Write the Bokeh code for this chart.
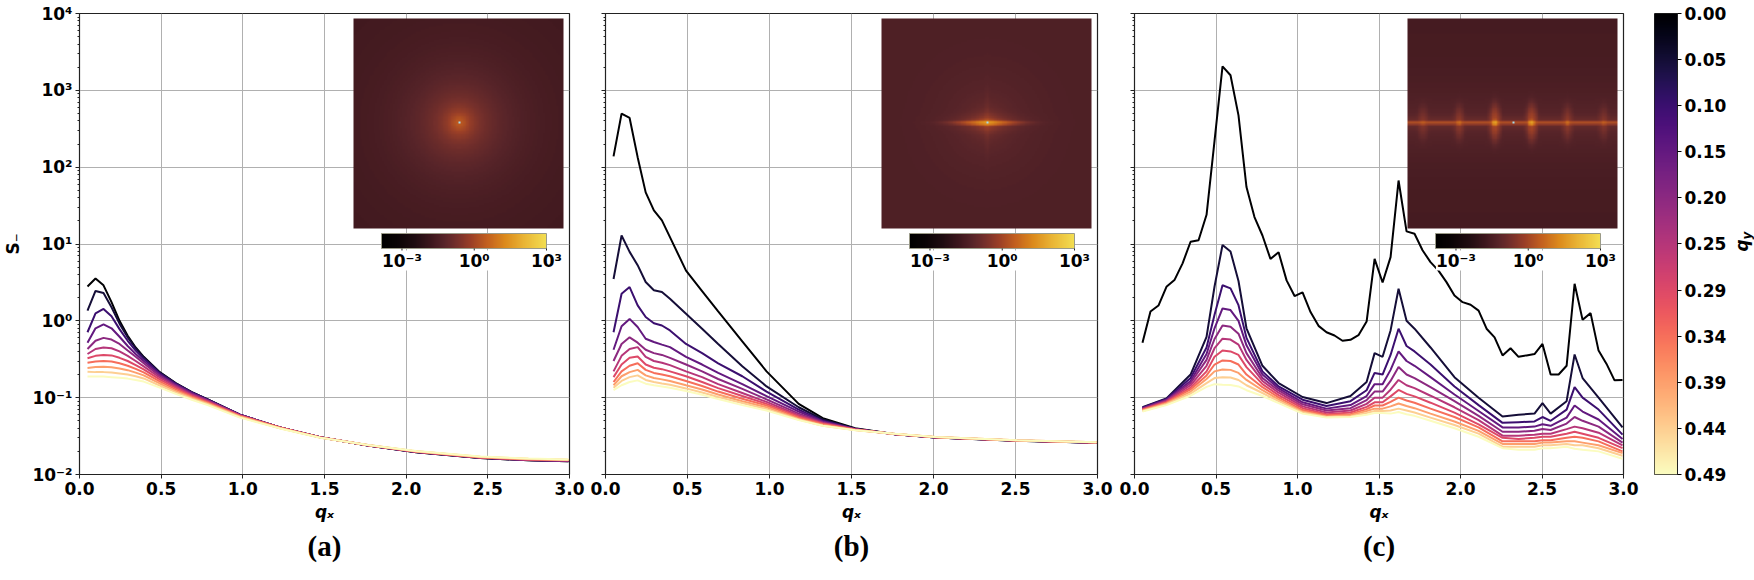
import numpy as np
from bokeh.plotting import figure
from bokeh.models import (Range1d, LinearScale, FixedTicker, CustomJSTickFormatter,
                          Title, LinearColorMapper, LogColorMapper)
from bokeh.layouts import row
from bokeh.embed import file_html
from bokeh.resources import INLINE
from bokeh.palettes import Magma256
from bokeh.core.properties import value

# ---------------------------------------------------------------- data
qy_values = [0.0, 0.0491, 0.0982, 0.1473, 0.1963, 0.2454, 0.2945, 0.3436, 0.3927, 0.4418, 0.4909]
qy_labels = ["0.00", "0.05", "0.10", "0.15", "0.20", "0.25", "0.29", "0.34", "0.39", "0.44", "0.49"]
x_ticks = [0.0, 0.5, 1.0, 1.5, 2.0, 2.5, 3.0]
x_tick_labels = ["0.0", "0.5", "1.0", "1.5", "2.0", "2.5", "3.0"]
y_ticks = [1e-2, 1e-1, 1e0, 1e1, 1e2, 1e3, 1e4]
y_tick_labels = ["10⁻²", "10⁻¹", "10⁰", "10¹", "10²", "10³", "10⁴"]
inset_ticks = [1e-3, 1e0, 1e3]
inset_tick_labels = ["10⁻³", "10⁰", "10³"]
panel_labels = ["(a)", "(b)", "(c)"]

# panel (a)
qx_a = [0.049, 0.098, 0.147, 0.196, 0.245, 0.295, 0.344, 0.393, 0.491, 0.589,
        0.687, 0.785, 0.982, 1.227, 1.473, 1.767, 2.062, 2.454, 2.749, 2.994]
S_a = [
    [2.8, 3.55, 2.9, 1.75, 1.0, 0.64, 0.45, 0.34, 0.215, 0.155, 0.118, 0.095, 0.060, 0.041, 0.0305, 0.0238, 0.0195, 0.0164, 0.0153, 0.0149],
    [1.36, 2.45, 2.3, 1.5, 0.92, 0.61, 0.44, 0.335, 0.213, 0.154, 0.118, 0.095, 0.060, 0.041, 0.0305, 0.0238, 0.0195, 0.0164, 0.0153, 0.0149],
    [0.71, 1.25, 1.43, 1.15, 0.78, 0.55, 0.41, 0.32, 0.208, 0.152, 0.117, 0.094, 0.060, 0.041, 0.0305, 0.0239, 0.0196, 0.0165, 0.0154, 0.0150],
    [0.52, 0.8, 0.9, 0.8, 0.62, 0.47, 0.37, 0.3, 0.2, 0.148, 0.115, 0.093, 0.060, 0.041, 0.0305, 0.0239, 0.0196, 0.0165, 0.0154, 0.0150],
    [0.43, 0.55, 0.6, 0.57, 0.5, 0.41, 0.34, 0.28, 0.192, 0.144, 0.112, 0.092, 0.059, 0.041, 0.0305, 0.024, 0.0197, 0.0166, 0.0155, 0.0151],
    [0.37, 0.43, 0.45, 0.44, 0.4, 0.35, 0.3, 0.255, 0.183, 0.139, 0.109, 0.09, 0.059, 0.041, 0.0305, 0.024, 0.0197, 0.0166, 0.0156, 0.0152],
    [0.326, 0.35, 0.36, 0.355, 0.33, 0.3, 0.265, 0.233, 0.173, 0.134, 0.106, 0.088, 0.058, 0.0408, 0.0304, 0.0241, 0.0198, 0.0167, 0.0157, 0.0153],
    [0.284, 0.295, 0.3, 0.295, 0.28, 0.26, 0.237, 0.213, 0.163, 0.128, 0.103, 0.086, 0.058, 0.0405, 0.0304, 0.0241, 0.0199, 0.0168, 0.0158, 0.0154],
    [0.244, 0.25, 0.252, 0.248, 0.24, 0.228, 0.212, 0.195, 0.153, 0.122, 0.1, 0.084, 0.057, 0.0403, 0.0303, 0.0242, 0.0200, 0.0169, 0.0159, 0.0155],
    [0.217, 0.215, 0.215, 0.212, 0.207, 0.2, 0.19, 0.178, 0.144, 0.117, 0.097, 0.082, 0.056, 0.040, 0.0302, 0.0242, 0.0201, 0.0170, 0.0160, 0.0156],
    [0.188, 0.188, 0.188, 0.185, 0.182, 0.177, 0.17, 0.162, 0.135, 0.112, 0.094, 0.08, 0.055, 0.0398, 0.0301, 0.0242, 0.0202, 0.0171, 0.0161, 0.0157],
]

# panel (b)
qx_b = [0.049, 0.098, 0.147, 0.196, 0.245, 0.295, 0.344, 0.393, 0.491, 0.589,
        0.687, 0.834, 0.982, 1.178, 1.325, 1.522, 1.767, 2.013, 2.503, 2.994]
S_b = [
    [138, 498, 437, 135, 47, 27.4, 20.3, 12.3, 4.5, 2.44, 1.33, 0.54, 0.22, 0.083, 0.054, 0.0400, 0.0333, 0.0303, 0.0275, 0.0258],
    [3.5, 12.9, 7.9, 5.3, 3.2, 2.5, 2.37, 1.94, 1.24, 0.79, 0.5, 0.257, 0.14, 0.075, 0.052, 0.0395, 0.0333, 0.0303, 0.0275, 0.0258],
    [0.71, 2.25, 2.75, 1.59, 1.12, 0.93, 0.87, 0.75, 0.5, 0.38, 0.28, 0.19, 0.12, 0.07, 0.050, 0.0392, 0.0334, 0.0304, 0.0276, 0.0259],
    [0.42, 0.85, 1.06, 0.83, 0.585, 0.53, 0.49, 0.455, 0.34, 0.27, 0.21, 0.15, 0.105, 0.066, 0.049, 0.0390, 0.0334, 0.0304, 0.0276, 0.0259],
    [0.3, 0.5, 0.61, 0.52, 0.42, 0.38, 0.36, 0.33, 0.27, 0.22, 0.175, 0.13, 0.095, 0.062, 0.048, 0.0388, 0.0335, 0.0305, 0.0277, 0.0260],
    [0.22, 0.35, 0.43, 0.455, 0.34, 0.3, 0.285, 0.265, 0.22, 0.185, 0.15, 0.115, 0.088, 0.059, 0.047, 0.0386, 0.0335, 0.0305, 0.0277, 0.0260],
    [0.185, 0.27, 0.33, 0.343, 0.27, 0.245, 0.235, 0.22, 0.19, 0.16, 0.133, 0.105, 0.083, 0.057, 0.046, 0.0384, 0.0336, 0.0306, 0.0278, 0.0261],
    [0.16, 0.22, 0.26, 0.28, 0.23, 0.21, 0.2, 0.19, 0.165, 0.142, 0.12, 0.097, 0.079, 0.055, 0.045, 0.0382, 0.0336, 0.0306, 0.0278, 0.0261],
    [0.145, 0.19, 0.215, 0.23, 0.195, 0.18, 0.173, 0.165, 0.145, 0.128, 0.11, 0.09, 0.075, 0.053, 0.044, 0.0380, 0.0337, 0.0307, 0.0279, 0.0262],
    [0.135, 0.165, 0.185, 0.195, 0.17, 0.16, 0.153, 0.147, 0.132, 0.117, 0.102, 0.085, 0.071, 0.052, 0.043, 0.0378, 0.0337, 0.0307, 0.0279, 0.0262],
    [0.125, 0.145, 0.16, 0.168, 0.152, 0.145, 0.14, 0.135, 0.122, 0.109, 0.096, 0.08, 0.068, 0.051, 0.043, 0.0376, 0.0338, 0.0308, 0.0280, 0.0263],
]

# panel (c): q_y = 0 curve on the full grid, other curves on a sparser grid
qx_c0 = [0.049, 0.098, 0.147, 0.196, 0.245, 0.295, 0.344, 0.393, 0.442, 0.491,
         0.540, 0.589, 0.638, 0.687, 0.736, 0.785, 0.834, 0.884, 0.933, 0.982,
         1.031, 1.080, 1.129, 1.178, 1.227, 1.276, 1.325, 1.374, 1.424, 1.473,
         1.522, 1.571, 1.620, 1.669, 1.718, 1.767, 1.816, 1.865, 1.914, 1.963,
         2.013, 2.062, 2.111, 2.160, 2.209, 2.258, 2.307, 2.356, 2.405, 2.454,
         2.503, 2.553, 2.602, 2.651, 2.700, 2.749, 2.798, 2.847, 2.896, 2.945, 2.994]
S_c0 = [0.52, 1.32, 1.58, 2.77, 3.39, 5.6, 10.7, 11.2, 24, 220,
        2050, 1570, 472, 55, 22.4, 12.9, 6.4, 7.8, 3.36, 2.1,
        2.35, 1.30, 0.86, 0.71, 0.645, 0.55, 0.567, 0.65, 0.98, 6.4,
        3.15, 6.75, 67, 14.6, 13.6, 8.3, 5.8, 4.5, 3.19, 2.14,
        1.75, 1.62, 1.36, 0.79, 0.61, 0.355, 0.44, 0.34, 0.355, 0.37,
        0.50, 0.20, 0.20, 0.26, 3.04, 1.03, 1.26, 0.41, 0.275, 0.168, 0.17]
qx_c = [0.049, 0.196, 0.344, 0.442, 0.491, 0.540, 0.589, 0.638, 0.687, 0.785,
        0.884, 1.031, 1.178, 1.325, 1.424, 1.473, 1.522, 1.571, 1.620, 1.669,
        1.718, 1.816, 1.963, 2.111, 2.258, 2.356, 2.454, 2.503, 2.553, 2.651,
        2.700, 2.749, 2.847, 2.994]
S_c = [
    [0.075, 0.098, 0.2, 0.62, 2.8, 9.7, 8.0, 3.3, 0.8, 0.26, 0.155, 0.102, 0.085, 0.105, 0.16, 0.38, 0.34, 0.75, 2.62, 1.0, 0.79, 0.45, 0.185, 0.1, 0.057, 0.06, 0.062, 0.085, 0.062, 0.09, 0.365, 0.18, 0.1, 0.041],
    [0.074, 0.096, 0.18, 0.45, 1.2, 2.9, 2.65, 1.6, 0.6, 0.22, 0.14, 0.094, 0.078, 0.09, 0.125, 0.21, 0.2, 0.36, 0.79, 0.47, 0.4, 0.27, 0.14, 0.08, 0.047, 0.048, 0.049, 0.056, 0.05, 0.07, 0.137, 0.1, 0.07, 0.033],
    [0.073, 0.094, 0.165, 0.37, 0.8, 1.45, 1.38, 1.0, 0.48, 0.2, 0.132, 0.087, 0.072, 0.08, 0.105, 0.15, 0.15, 0.23, 0.4, 0.3, 0.26, 0.185, 0.11, 0.067, 0.041, 0.041, 0.042, 0.045, 0.043, 0.055, 0.079, 0.066, 0.052, 0.029],
    [0.072, 0.092, 0.155, 0.31, 0.58, 0.87, 0.84, 0.68, 0.38, 0.18, 0.124, 0.082, 0.068, 0.073, 0.093, 0.12, 0.12, 0.165, 0.25, 0.2, 0.18, 0.137, 0.09, 0.058, 0.036, 0.036, 0.037, 0.039, 0.038, 0.046, 0.056, 0.05, 0.042, 0.026],
    [0.071, 0.09, 0.145, 0.26, 0.44, 0.585, 0.57, 0.49, 0.31, 0.165, 0.116, 0.077, 0.064, 0.068, 0.083, 0.1, 0.1, 0.127, 0.17, 0.145, 0.133, 0.106, 0.075, 0.051, 0.032, 0.032, 0.033, 0.034, 0.034, 0.039, 0.042, 0.04, 0.035, 0.024],
    [0.070, 0.088, 0.135, 0.22, 0.34, 0.41, 0.40, 0.36, 0.25, 0.15, 0.108, 0.073, 0.061, 0.064, 0.076, 0.087, 0.087, 0.104, 0.126, 0.112, 0.104, 0.086, 0.064, 0.045, 0.03, 0.029, 0.03, 0.031, 0.031, 0.034, 0.036, 0.034, 0.03, 0.022],
    [0.069, 0.086, 0.128, 0.195, 0.27, 0.305, 0.30, 0.27, 0.2, 0.137, 0.101, 0.069, 0.059, 0.061, 0.071, 0.079, 0.079, 0.088, 0.1, 0.092, 0.086, 0.072, 0.056, 0.041, 0.027, 0.027, 0.027, 0.028, 0.028, 0.03, 0.031, 0.03, 0.027, 0.02],
    [0.068, 0.084, 0.12, 0.175, 0.22, 0.233, 0.23, 0.21, 0.17, 0.125, 0.095, 0.066, 0.057, 0.059, 0.067, 0.072, 0.072, 0.077, 0.084, 0.078, 0.073, 0.062, 0.049, 0.037, 0.025, 0.025, 0.025, 0.026, 0.026, 0.027, 0.027, 0.026, 0.024, 0.019],
    [0.067, 0.082, 0.113, 0.155, 0.18, 0.185, 0.183, 0.17, 0.145, 0.115, 0.09, 0.064, 0.056, 0.057, 0.063, 0.067, 0.067, 0.068, 0.072, 0.068, 0.064, 0.055, 0.044, 0.034, 0.023, 0.023, 0.023, 0.024, 0.024, 0.025, 0.024, 0.024, 0.022, 0.0175],
    [0.066, 0.08, 0.106, 0.138, 0.15, 0.147, 0.146, 0.14, 0.125, 0.105, 0.085, 0.062, 0.055, 0.056, 0.06, 0.063, 0.063, 0.062, 0.065, 0.061, 0.058, 0.05, 0.04, 0.031, 0.022, 0.021, 0.021, 0.022, 0.022, 0.023, 0.0216, 0.021, 0.02, 0.016],
]

# inset colour scale (log10 limits) and colour anchors
inset_log_low, inset_log_high = -3.85, 3.0
inset_anchor_pos = [0.0, 0.1, 0.2, 0.3, 0.38, 0.46, 0.54, 0.64, 0.75, 0.86, 1.0]
inset_anchor_hex = ["#000000", "#0b0406", "#1f0c11", "#3d171d", "#572429", "#76302b",
                    "#9a3f27", "#c25f1f", "#dc8a1c", "#e9b334", "#f3de52"]
# inset maps: Bragg-peak positions (q_x) and strengths for panel (c)
peak_q_c = [0.55, 1.62, 2.70]
peak_amp_c = [40.0, 4.0, 1.5]

# ---------------------------------------------------------------- helpers
FONT = "DejaVu Sans"
FS = "17px"
FRAME_H = 461
TOP, BOTTOM = 13, 106


def lin_formatter(tvals, tlabels):
    return CustomJSTickFormatter(args=dict(tvals=list(tvals), tlabels=list(tlabels)), code="""
        let best = 0;
        for (let i = 0; i < tvals.length; i++) {
            if (Math.abs(tvals[i] - tick) < Math.abs(tvals[best] - tick)) best = i;
        }
        return tlabels[best];
    """)


def log_formatter(tvals, tlabels):
    return CustomJSTickFormatter(args=dict(lvals=[float(np.log10(t)) for t in tvals], tlabels=list(tlabels)), code="""
        const lt = Math.log10(tick);
        let best = 0;
        for (let i = 0; i < lvals.length; i++) {
            if (Math.abs(lvals[i] - lt) < Math.abs(lvals[best] - lt)) best = i;
        }
        return tlabels[best];
    """)


def hex2rgb(h):
    return [int(h[i:i + 2], 16) for i in (1, 3, 5)]


anchors = np.array([hex2rgb(h) for h in inset_anchor_hex], dtype=float)
tt = np.linspace(0, 1, 256)
inset_palette = ["#%02x%02x%02x" % tuple(int(round(np.interp(t, inset_anchor_pos, anchors[:, c]))) for c in range(3))
                 for t in tt]
inset_mapper = LogColorMapper(palette=inset_palette, low=10 ** inset_log_low, high=10 ** inset_log_high,
                              nan_color="#a6dcea")

# inset maps on a 128 x 128 reciprocal-space grid
NG = 128
qg = (np.arange(NG) - NG // 2) * 2 * np.pi / NG
QX, QY = np.meshgrid(qg, qg)
Q2 = QX ** 2 + QY ** 2
with np.errstate(divide="ignore", invalid="ignore"):
    img_a = 0.016 + 0.08 / (Q2 + 0.03) + 0.02 * np.exp(-Q2 / 1.5)
    img_b = (0.036 + 0.012 / (Q2 + 0.06) + 0.015 * np.exp(-Q2 / 2.0)
             + 40 * np.exp(-np.abs(QX) / 0.2) * np.exp(-QY ** 2 / (2 * 0.035 ** 2))
             + 0.5 * np.exp(-np.abs(QX) / 0.35) * np.exp(-QY ** 2 / (2 * 0.15 ** 2))
             + 0.15 * np.exp(-np.abs(QY) / 0.35) * np.exp(-QX ** 2 / (2 * 0.05 ** 2)))
    img_c = (0.024 + 0.045 * np.exp(-np.abs(QY) / 0.7)
             + 1.2 * np.exp(-QY ** 2 / (2 * 0.03 ** 2))
             + 0.05 * np.exp(-QY ** 2 / (2 * 0.12 ** 2)))
    for pq, pa in zip(peak_q_c, peak_amp_c):
        dx2 = (np.abs(QX) - pq) ** 2
        img_c = img_c + pa * np.exp(-dx2 / (2 * 0.045 ** 2)) * np.exp(-QY ** 2 / (2 * 0.035 ** 2))
        img_c = img_c + 0.16 * np.sqrt(pa) * np.exp(-dx2 / (2 * 0.08 ** 2)) * np.exp(-QY ** 2 / (2 * 0.25 ** 2))
for im in (img_a, img_b, img_c):
    im[NG // 2, NG // 2] = np.nan
inset_images = [img_a, img_b, img_c]


def line_color(i):
    return Magma256[int(round(i * 255 / 10))]


def make_panel(idx, frame_w, left, right, qx_list, lines, qx0=None):
    p = figure(frame_width=frame_w, frame_height=FRAME_H,
               x_range=Range1d(0, 3), y_range=Range1d(1e-2, 1e4), y_axis_type="log",
               output_backend="svg", toolbar_location=None,
               min_border_left=left, min_border_right=right,
               min_border_top=TOP, min_border_bottom=BOTTOM)
    p.background_fill_color = "white"
    p.border_fill_color = "white"
    p.outline_line_color = "#222222"
    p.outline_line_width = 1.2
    p.extra_x_ranges = {"px": Range1d(0, frame_w)}
    p.extra_y_ranges = {"px": Range1d(0, FRAME_H)}
    p.extra_x_scales = {"px": LinearScale()}
    p.extra_y_scales = {"px": LinearScale()}

    # axes
    p.xaxis.ticker = FixedTicker(ticks=x_ticks, minor_ticks=[])
    p.xaxis.formatter = lin_formatter(x_ticks, x_tick_labels)
    y_minor = [m * 10.0 ** e for e in range(-2, 4) for m in range(2, 10)]
    p.yaxis.ticker = FixedTicker(ticks=y_ticks, minor_ticks=y_minor)
    p.yaxis.formatter = log_formatter(y_ticks, y_tick_labels)
    for ax in (p.xaxis[0], p.yaxis[0]):
        ax.major_label_text_font = FONT
        ax.major_label_text_font_style = "bold"
        ax.major_label_text_font_size = FS
        ax.major_label_text_color = "black"
        ax.major_tick_out = 4
        ax.major_tick_in = 0
        ax.minor_tick_out = 2
        ax.minor_tick_in = 0
        ax.major_label_standoff = 3
        ax.axis_line_color = "#222222"
        ax.major_tick_line_color = "#222222"
        ax.minor_tick_line_color = "#222222"
        ax.axis_label_text_font = FONT
        ax.axis_label_text_font_style = "bold italic"
        ax.axis_label_text_font_size = FS
        ax.axis_label_text_color = "black"
    p.xaxis.axis_label = "qₓ"
    p.xaxis.axis_label_standoff = 4
    if idx == 0:
        p.yaxis.axis_label = "S₋"
        p.yaxis.axis_label_text_font_style = "bold"
        p.yaxis.axis_label_standoff = 6
    else:
        # shared y axis: ticks only, no labels drawn
        p.yaxis.major_label_text_color = None
        p.yaxis.major_label_text_alpha = 0
        p.yaxis.major_label_standoff = 0

    p.xgrid.grid_line_color = "#b0b0b0"
    p.ygrid.grid_line_color = "#b0b0b0"
    p.xgrid.grid_line_width = 1
    p.ygrid.grid_line_width = 1
    p.ygrid.ticker = FixedTicker(ticks=y_ticks, minor_ticks=[])

    # curves, q_y = 0 first
    for i, ys in enumerate(lines):
        xs = qx_list
        if i == 0 and qx0 is not None:
            xs = qx0
        p.line(xs, ys, line_color=line_color(i), line_width=2)

    # inset map
    img_w = 210
    img_x0 = frame_w - 6 - img_w
    img_y0 = FRAME_H - 5 - img_w
    p.image(image=[inset_images[idx]], x=img_x0, y=img_y0, dw=img_w, dh=img_w,
            color_mapper=inset_mapper, x_range_name="px", y_range_name="px")

    # inset colour bar
    cb_w, cb_h = 165, 15
    cb_left = img_x0 + 28
    cb_top = img_y0 - 5
    cb_bottom = cb_top - cb_h
    grad = np.logspace(inset_log_low, inset_log_high, 256).reshape(1, 256)
    p.image(image=[grad], x=cb_left, y=cb_bottom, dw=cb_w, dh=cb_h,
            color_mapper=inset_mapper, x_range_name="px", y_range_name="px")
    p.quad(left=[cb_left], right=[cb_left + cb_w], top=[cb_top], bottom=[cb_bottom],
           fill_color=None, line_color="#9a9a88", line_width=1, x_range_name="px", y_range_name="px")
    tick_px = [cb_left + (np.log10(t) - inset_log_low) / (inset_log_high - inset_log_low) * cb_w
               for t in inset_ticks]
    p.segment(x0=tick_px, y0=[cb_bottom] * 3, x1=tick_px, y1=[cb_bottom - 4] * 3,
              line_color="#222222", line_width=1, x_range_name="px", y_range_name="px")
    p.text(x=tick_px, y=[cb_bottom - 2] * 3, text=inset_tick_labels,
           text_font=value(FONT), text_font_style="bold", text_font_size=FS,
           text_align="center", text_baseline="top", text_color="black",
           background_fill_color="white",
           x_range_name="px", y_range_name="px")

    p.add_layout(Title(text=panel_labels[idx], align="center", text_font="Liberation Serif",
                       text_font_size="29px", text_font_style="bold", text_color="black",
                       standoff=6), "below")
    return p


pA = make_panel(0, 490, 78, 18, qx_a, S_a)
pB = make_panel(1, 492, 18, 18, qx_b, S_b)
pC = make_panel(2, 489, 19, 31, qx_c, [S_c0] + S_c, qx0=qx_c0)

# ---------------------------------------------------------------- q_y colour bar
# position along the bar runs bottom -> top; q_y = qmax - position (0.00 at the top)
qmax = qy_values[-1]
pcb = figure(frame_width=23, frame_height=FRAME_H, x_range=Range1d(0, 1),
             y_range=Range1d(0, qmax), x_axis_location=None, y_axis_location="right",
             output_backend="svg", toolbar_location=None,
             min_border_left=0, min_border_right=52, min_border_top=TOP, min_border_bottom=BOTTOM)
pcb.grid.visible = False
pcb.outline_line_color = "#222222"
pcb.outline_line_width = 1
pos = np.linspace(0, qmax, 512)
bar = (qmax - pos).reshape(512, 1)
pcb.image(image=[bar], x=0, y=0, dw=1, dh=qmax,
          color_mapper=LinearColorMapper(palette=Magma256, low=0, high=qmax))
tick_pos = [qmax - q for q in qy_values]
ax = pcb.yaxis[0]
ax.ticker = FixedTicker(ticks=tick_pos, minor_ticks=[])
ax.formatter = lin_formatter(tick_pos, qy_labels)
ax.major_label_text_font = FONT
ax.major_label_text_font_style = "bold"
ax.major_label_text_font_size = FS
ax.major_label_text_color = "black"
ax.major_tick_out = 4
ax.major_tick_in = 0
ax.major_label_standoff = 3
ax.axis_line_color = "#222222"

# q_y axis title (rotated, reading upwards)
plab = figure(frame_width=26, frame_height=FRAME_H, x_range=Range1d(0, 26),
              y_range=Range1d(0, FRAME_H), x_axis_location=None, y_axis_location=None,
              output_backend="svg", toolbar_location=None,
              min_border_left=0, min_border_right=0, min_border_top=TOP, min_border_bottom=BOTTOM)
plab.grid.visible = False
plab.outline_line_color = None
plab.text(x=[12], y=[229], text=["q"], angle=np.pi / 2, text_font=value(FONT),
          text_font_style="bold italic", text_font_size=FS, text_align="center",
          text_baseline="middle", text_color="black")
plab.text(x=[17], y=[239], text=["y"], angle=np.pi / 2, text_font=value(FONT),
          text_font_style="bold italic", text_font_size="12px", text_align="center",
          text_baseline="middle", text_color="black")

layout = row(pA, pB, pC, pcb, plab, spacing=0)
open("out.html", "w").write(file_html(layout, INLINE))
